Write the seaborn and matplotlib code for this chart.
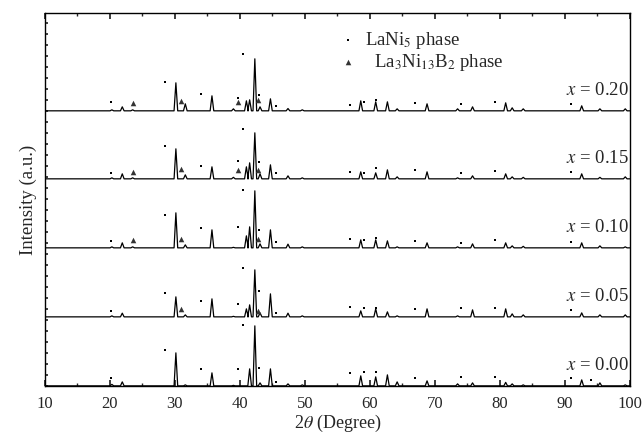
import numpy as np
import pandas as pd
import matplotlib
matplotlib.use("Agg")
import matplotlib.pyplot as plt
from matplotlib.ticker import MultipleLocator, NullFormatter
import seaborn as sns

# ── Data ──────────────────────────────────────────────────────────────────────
samples = ["0.00", "0.05", "0.10", "0.15", "0.20"]
offsets = [0, 69, 138, 207, 275]          # vertical shift of each pattern

peak_pos = [20.3, 21.9, 23.5, 30.15, 31.6, 35.7, 39.0, 41.0, 41.5, 42.3, 43.1,
            44.7, 47.4, 49.6, 58.6, 60.9, 62.7, 64.2, 68.8, 73.5, 75.8, 80.9,
            81.9, 83.6, 92.6, 95.4, 99.3]
peak_h = {
    "0.00": [1.5, 4, 0, 33, 1, 13, 0.5, 0, 17, 60, 3, 17, 2, 1,
             10, 9, 11, 4, 5, 2, 3, 3.5, 2, 1, 6, 3, 1],
    "0.05": [1, 3.7, 0, 20, 2, 18, 0.5, 8, 12, 47, 4, 23, 3.7, 1,
             6, 8, 5, 1, 8, 1, 7, 8, 3, 2, 4, 2, 2],
    "0.10": [1, 5, 1, 35, 3, 18, 0.5, 12, 21, 57, 4, 18, 3.7, 1,
             8, 8, 7, 1, 5, 1, 4, 5, 2, 1.5, 5, 2, 1],
    "0.15": [1, 5, 1, 30, 4, 12, 1.5, 12, 16, 46, 5, 14, 3, 1,
             7, 6, 9, 2, 7, 1, 3, 5, 2, 1.5, 5, 1.5, 2],
    "0.20": [1, 4, 1, 28, 7, 15, 2, 10, 11, 52, 4, 12, 2.3, 1,
             10, 9, 9, 2, 7, 2, 4, 8, 3, 2, 5, 2, 2],
}
peak_halfwidth = 0.28

lani5_pos = [20.1, 28.4, 34.0, 39.7, 40.5, 42.9, 45.6, 57.0, 59.1, 61.0,
             67.0, 74.0, 79.2, 90.9, 94.1]
lani5_h = {
    "0.00": [8, 36, 17, 17, 60.7, 18, 4, 13.3, 14.3, 14.3, 8.3, 9.3, 9.3, 7.7, 6],
    "0.05": [6, 24, 16.3, 13.3, 48.7, 26.3, 3.7, 10.3, 8.7, 9, 8.3, 9, 9.3, 7, np.nan],
    "0.10": [7, 33.3, 20, 21, 57.7, 18.3, 6, 9, 8, 10, 6.7, 5, 8.3, 5.7, np.nan],
    "0.15": [6.3, 33.3, 13.3, 18, 50.3, 17, 5.7, 7, 6, 10.7, 8.7, 6, 7.7, 7, np.nan],
    "0.20": [9, 28.7, 17, 13, 57, 15.7, 4.7, 6, 9.3, 11, 8.3, 7, 9, 6.7, np.nan],
}

boride_pos = [23.5, 30.9, 39.7, 42.8]
boride_h = {
    "0.00": [np.nan, np.nan, np.nan, np.nan],
    "0.05": [np.nan, 8.3, np.nan, 6],
    "0.10": [8.3, 8.7, np.nan, 9.3],
    "0.15": [7.3, 9.7, 9, 9.3],
    "0.20": [8, 10.3, 8.7, 11],
}

# ── Build long tables ─────────────────────────────────────────────────────────
rows = []
for s, off in zip(samples, offsets):
    rows.append((s, 10.0, off))
    for p, h in zip(peak_pos, peak_h[s]):
        if h <= 0:
            continue
        rows += [(s, p - peak_halfwidth, off), (s, p, off + h), (s, p + peak_halfwidth, off)]
    rows.append((s, 100.0, off))
xrd = pd.DataFrame(rows, columns=["sample", "two_theta", "intensity"])

dots = pd.DataFrame([(s, p, off + h) for s, off in zip(samples, offsets)
                     for p, h in zip(lani5_pos, lani5_h[s])],
                    columns=["sample", "two_theta", "intensity"]).dropna()
tris = pd.DataFrame([(s, p, off + h) for s, off in zip(samples, offsets)
                     for p, h in zip(boride_pos, boride_h[s])],
                    columns=["sample", "two_theta", "intensity"]).dropna()

# ── Plot ──────────────────────────────────────────────────────────────────────
sns.set_theme(style="ticks")
plt.rcParams["font.family"] = ["Liberation Serif", "DejaVu Serif"]
plt.rcParams["mathtext.fontset"] = "stix"

fig = plt.figure(figsize=(6.42, 4.37), dpi=100)
ax = fig.add_axes([0.070, 0.117, 0.911, 0.853])

sns.lineplot(data=xrd, x="two_theta", y="intensity", units="sample",
             estimator=None, sort=False, color="black", linewidth=0.9, ax=ax)
ax.scatter(dots["two_theta"], dots["intensity"], s=4, marker="s",
           color="black", linewidths=0, zorder=3)
ax.scatter(tris["two_theta"], tris["intensity"], s=16, marker="^",
           color="#333333", linewidths=0, zorder=3)

for s, off in zip(samples, offsets):
    ax.text(99.8, off + 20, f"$x$ = {s}", ha="right", va="center", fontsize=13.5)

# legend drawn as text
ax.scatter([56.6], [345.5], s=4, marker="s", color="black", linewidths=0)
ax.text(59.2, 345.5, "LaNi$_5$ phase", ha="left", va="center", fontsize=13.5)
ax.scatter([56.6], [323.5], s=16, marker="^", color="#333333", linewidths=0)
ax.text(60.6, 323.5, "La$_3$Ni$_{13}$B$_2$ phase", ha="left", va="center", fontsize=13.5)

ax.set_xlim(10, 100)
ax.set_ylim(0, 372.7)
ax.xaxis.set_major_locator(MultipleLocator(10))
ax.xaxis.set_minor_locator(MultipleLocator(5))
ax.yaxis.set_major_locator(MultipleLocator(11))
ax.yaxis.set_major_formatter(NullFormatter())
ax.tick_params(axis="x", which="both", direction="in", top=True, labelsize=12, pad=7)
ax.tick_params(axis="x", which="major", length=4)
ax.tick_params(axis="x", which="minor", length=2)
ax.tick_params(axis="y", which="both", direction="in", left=True, right=False, length=2.5)
for sp in ax.spines.values():
    sp.set_linewidth(1.0)
    sp.set_color("black")

ax.set_xlabel(r"2$\theta$ (Degree)", fontsize=13, labelpad=1)
ax.set_ylabel("Intensity (a.u.)", fontsize=13.5, labelpad=2)

plt.savefig("out.png", dpi=100)
